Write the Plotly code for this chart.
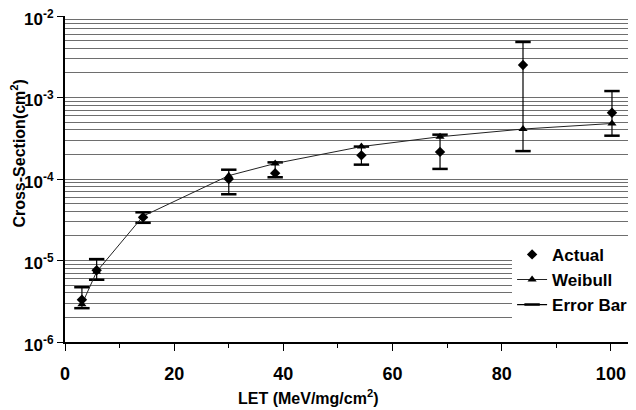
import plotly.graph_objects as go

# ---- data ----
let_vals = [3.1, 5.8, 14.3, 30.0, 38.5, 54.3, 68.7, 83.9, 100.2]
actual = [3.3e-6, 7.6e-6, 3.4e-5, 1.0e-4, 1.18e-4, 1.95e-4, 2.15e-4, 2.5e-3, 6.5e-4]
weibull = [2.9e-6, 7.3e-6, 3.5e-5, 1.1e-4, 1.55e-4, 2.5e-4, 3.3e-4, 4.1e-4, 4.8e-4]
err_hi = [4.7e-6, 1.04e-5, 3.9e-5, 1.3e-4, 1.6e-4, 2.5e-4, 3.5e-4, 4.8e-3, 1.2e-3]
err_lo = [2.6e-6, 5.8e-6, 2.9e-5, 6.5e-5, 1.05e-4, 1.5e-4, 1.33e-4, 2.2e-4, 3.4e-4]

y_major = [1e-6, 1e-5, 1e-4, 1e-3, 1e-2]
y_major_text = ["<b>10<sup>-6</sup></b>", "<b>10<sup>-5</sup></b>", "<b>10<sup>-4</sup></b>",
                "<b>10<sup>-3</sup></b>", "<b>10<sup>-2</sup></b>"]
x_ticks = [0, 20, 40, 60, 80, 100]
x_tick_text = ["<b>0</b>", "<b>20</b>", "<b>40</b>", "<b>60</b>", "<b>80</b>", "<b>100</b>"]

FONT = "Liberation Sans, Arial, sans-serif"

# error-bar segments built from the data arrays
eb_x, eb_y = [], []
for x, lo, hi in zip(let_vals, err_lo, err_hi):
    eb_x += [x, x, None]
    eb_y += [lo, hi, None]

y_minor = [m * 10 ** e for e in range(-6, -2) for m in range(2, 10)]

fig = go.Figure()
fig.add_trace(go.Scatter(
    x=eb_x, y=eb_y, name="<b>Error Bar</b>", mode="lines+markers",
    line=dict(color="black", width=1.2),
    marker=dict(symbol="line-ew", size=11, line=dict(color="black", width=2.5)),
    connectgaps=False, legendrank=3,
))
fig.add_trace(go.Scatter(
    x=let_vals, y=weibull, name="<b>Weibull</b>", mode="lines+markers",
    line=dict(color="#222222", width=1),
    marker=dict(symbol="triangle-up", size=8, color="black"),
    legendrank=2,
))
fig.add_trace(go.Scatter(
    x=let_vals, y=actual, name="<b>Actual</b>", mode="markers",
    marker=dict(symbol="diamond", size=8, color="black"),
    legendrank=1,
))

# page body adds an 8px offset; the figure is sized so it ends at 636x410
fig.update_layout(
    width=628, height=402,
    margin=dict(l=57, r=0, t=8, b=68),
    paper_bgcolor="white", plot_bgcolor="white",
    font=dict(family=FONT, color="black"),
    showlegend=True,
    legend=dict(
        x=0.783, y=0.3225, xanchor="left", yanchor="top",
        bgcolor="white", borderwidth=0,
        font=dict(family=FONT, size=17, color="black"),
        tracegroupgap=0, itemwidth=30, traceorder="normal",
    ),
    xaxis=dict(
        range=[0, 104.6], tickvals=x_ticks, ticktext=x_tick_text,
        ticks="outside", ticklen=7, tickwidth=1, tickcolor="black",
        minor=dict(dtick=10, ticks="outside", ticklen=4, tickcolor="black"),
        showline=True, linecolor="black", linewidth=2,
        showgrid=False, zeroline=False, automargin=False,
        ticklabelstandoff=7, ticklabeloverflow="allow",
        tickfont=dict(family=FONT, size=18),
    ),
    yaxis=dict(
        type="log", range=[-6, -2],
        tickvals=y_major, ticktext=y_major_text,
        ticks="outside", ticklen=6, tickcolor="black",
        showline=True, linecolor="black", linewidth=2,
        showgrid=True, gridcolor="#6e6e6e", gridwidth=1.4,
        minor=dict(tickvals=y_minor, showgrid=True, gridcolor="#6e6e6e", gridwidth=1.4, ticks=""),
        zeroline=False, automargin=False, ticklabeloverflow="allow",
        ticklabelshift=3,
        tickfont=dict(family=FONT, size=17),
    ),
    annotations=[
        dict(text="<b>Cross-Section(cm<sup>2</sup>)</b>", textangle=-90,
             xref="paper", yref="paper", x=-0.0823, y=0.578,
             xanchor="center", yanchor="middle", showarrow=False,
             font=dict(family=FONT, size=16, color="black")),
        dict(text="<b>LET (MeV/mg/cm<sup>2</sup>)</b>",
             xref="paper", yref="paper", x=0.4256, y=-0.169,
             xanchor="center", yanchor="middle", showarrow=False,
             font=dict(family=FONT, size=16, color="black")),
    ],
)

fig.write_html("out.html")
